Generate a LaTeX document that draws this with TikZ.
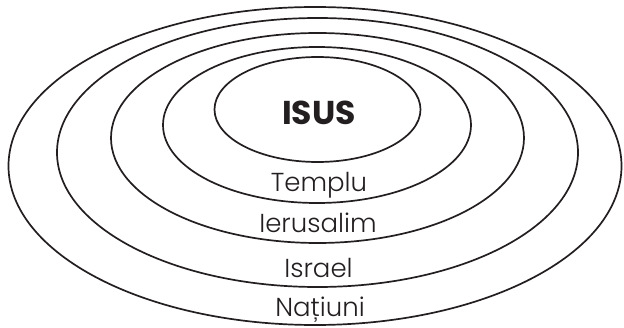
\documentclass[tikz,border=0pt]{standalone}
\usepackage{fontspec}
\setmainfont{Poppins}
\newfontfamily\lightfont{Poppins Light}
\definecolor{ink}{HTML}{231F20}
\begin{document}
\begin{tikzpicture}[x=1pt,y=1pt,
  ring/.style={draw=ink,line width=1.7pt},
  lbl/.style={anchor=base,text=ink,font=\lightfont\fontsize{26}{26}\selectfont,inner sep=0pt},
  big/.style={anchor=base,text=ink,font=\bfseries\fontsize{33}{33}\selectfont,inner sep=0pt}]
\useasboundingbox (0,0) rectangle (624,327);
\draw[ring] (315,161) ellipse [x radius=306.5, y radius=159];
\draw[ring] (317.5,174.5) ellipse [x radius=260.5, y radius=134.5];
\draw[ring] (317.5,189) ellipse [x radius=206.5, y radius=105];
\draw[ring] (317,202) ellipse [x radius=154, y radius=78];
\draw[ring] (317.5,217.5) ellipse [x radius=103, y radius=52.5];
\node[big] (isus) at (319,202) {ISUS};
\node[lbl] (templu) at (319,135) {Templu};
\node[lbl] (ierusalim) at (318,95) {Ierusalim};
\node[lbl] (israel) at (318.5,50) {Israel};
\node[lbl] (natiuni) at (320,11) {Națiuni};
\end{tikzpicture}
\end{document}
